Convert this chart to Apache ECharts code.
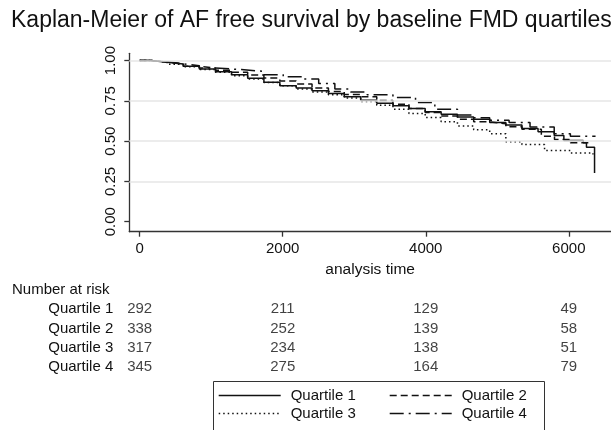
<!DOCTYPE html>
<html>
<head>
<meta charset="utf-8">
<script src="https://cdn.jsdelivr.net/npm/echarts@6/dist/echarts.min.js"></script>
<style>
html,body{margin:0;padding:0;background:#fff;}
#chart{width:611px;height:430px;}
</style>
</head>
<body>
<div id="chart"></div>
<script>
// ---- data ----
const titleText = 'Kaplan-Meier of AF free survival by baseline FMD quartiles';
const seriesNames = ['Quartile 1', 'Quartile 2', 'Quartile 3', 'Quartile 4'];

const q1Time = [0, 160, 383, 610, 834, 1060, 1285, 1510, 1737, 1960, 2188, 2410, 2639, 2860, 3090, 3315, 3541, 3765, 3992, 4215, 4443, 4670, 4894, 5120, 5345, 5570, 5796, 5931, 6202, 6247, 6360];
const q1Surv = [1.0, 0.99, 0.979, 0.965, 0.948, 0.931, 0.9125, 0.89, 0.865, 0.844, 0.829, 0.8125, 0.796, 0.775, 0.754, 0.735, 0.719, 0.702, 0.683, 0.667, 0.65, 0.635, 0.615, 0.60, 0.579, 0.558, 0.535, 0.504, 0.49, 0.4625, 0.302];

const q2Time = [0, 160, 383, 610, 834, 1060, 1285, 1510, 1737, 1960, 2188, 2410, 2639, 2860, 3090, 3315, 3541, 3765, 3992, 4215, 4443, 4670, 4894, 5120, 5345, 5616, 5800, 6022, 6300];
const q2Surv = [1.0, 0.99, 0.978, 0.965, 0.954, 0.94, 0.927, 0.91, 0.892, 0.873, 0.854, 0.83, 0.808, 0.79, 0.775, 0.752, 0.729, 0.703, 0.677, 0.656, 0.635, 0.62, 0.608, 0.59, 0.573, 0.531, 0.51, 0.49, 0.49];

const q3Time = [0, 160, 383, 610, 834, 1060, 1285, 1510, 1737, 1960, 2188, 2410, 2639, 2860, 3090, 3315, 3541, 3765, 3992, 4215, 4443, 4670, 4894, 5120, 5345, 5661, 6022, 6338];
const q3Surv = [1.0, 0.99, 0.977, 0.962, 0.945, 0.927, 0.906, 0.885, 0.864, 0.843, 0.823, 0.805, 0.7875, 0.767, 0.746, 0.722, 0.698, 0.672, 0.646, 0.62, 0.594, 0.57, 0.546, 0.496, 0.479, 0.442, 0.427, 0.417];

const q4Time = [0, 160, 383, 610, 834, 1060, 1421, 1737, 2007, 2278, 2503, 2729, 2950, 3180, 3541, 3857, 4127, 4443, 4670, 4894, 5165, 5458, 5796, 6022, 6374];
const q4Surv = [1.0, 0.992, 0.98, 0.968, 0.954, 0.944, 0.933, 0.9125, 0.90, 0.885, 0.858, 0.823, 0.805, 0.7875, 0.771, 0.74, 0.698, 0.6625, 0.645, 0.629, 0.615, 0.5875, 0.546, 0.531, 0.531];

const xTicks = [0, 2000, 4000, 6000];
const yTicks = [0, 0.25, 0.5, 0.75, 1];
const gridValues = [0.25, 0.5, 0.75, 1];

const riskTimes = [0, 2000, 4000, 6000];
const riskQ1 = [292, 211, 129, 49];
const riskQ2 = [338, 252, 139, 58];
const riskQ3 = [317, 234, 138, 51];
const riskQ4 = [345, 275, 164, 79];

// ---- chart ----
const FONT = '"Liberation Sans", Arial, Helvetica, sans-serif';
const INK = '#111';
const zip = (a, b) => a.map((v, i) => [v, b[i]]);
const survData = [zip(q1Time, q1Surv), zip(q2Time, q2Surv), zip(q3Time, q3Surv), zip(q4Time, q4Surv)];
const dashes = ['solid', [7, 4], [1.5, 3], [14, 5, 2, 5]];
const riskData = [riskQ1, riskQ2, riskQ3, riskQ4];

const chart = echarts.init(document.getElementById('chart'), null, {renderer: 'canvas'});

const series = [];
series.push({
  type: 'line', name: '_grid', data: [], xAxisIndex: 0, yAxisIndex: 0, silent: true,
  markLine: {
    silent: true, symbol: ['none', 'none'], label: {show: false},
    lineStyle: {color: '#e6e6e6', width: 1.5, type: 'solid'},
    emphasis: {disabled: true},
    data: gridValues.map(v => ({yAxis: v}))
  }
});
seriesNames.forEach((n, i) => {
  series.push({
    type: 'line', name: n, step: 'end', symbol: 'none', showSymbol: false, data: survData[i],
    xAxisIndex: 0, yAxisIndex: 0, z: 3,
    lineStyle: {color: INK, width: 1.5, type: dashes[i]},
    itemStyle: {color: INK}
  });
});
seriesNames.forEach((n, i) => {
  series.push({
    type: 'scatter', name: '_risk' + i, xAxisIndex: 1, yAxisIndex: 1,
    symbolSize: 1, itemStyle: {color: 'rgba(0,0,0,0)'}, silent: true,
    data: riskTimes.map((t, j) => [t, n, riskData[i][j]]),
    label: {
      show: true, position: 'inside', formatter: p => String(p.data[2]),
      color: INK, fontSize: 15, fontFamily: FONT
    }
  });
});

const legendPos = [[218, 388], [389, 388], [218, 406], [389, 406]];
const legends = seriesNames.map((n, i) => ({
  show: true, data: [n], left: legendPos[i][0], top: legendPos[i][1], padding: 0,
  itemWidth: 62, itemHeight: 14, itemGap: 0, selectedMode: false,
  textStyle: {color: INK, fontSize: 15, fontFamily: FONT, padding: [0, 0, 0, 5]},
  itemStyle: {color: 'rgba(0,0,0,0)', borderColor: 'rgba(0,0,0,0)', borderWidth: 0, opacity: 0},
  lineStyle: {type: dashes[i], width: 1.4, color: INK}
}));

chart.setOption({
  backgroundColor: '#fff',
  animation: false,
  title: [
    {text: titleText, left: 11, top: 9, padding: 0,
     textStyle: {fontSize: 23, fontWeight: 'normal', color: INK, fontFamily: FONT}},
    {text: 'Number at risk', left: 12, top: 282, padding: 0,
     textStyle: {fontSize: 15, fontWeight: 'normal', color: INK, fontFamily: FONT}}
  ],
  legend: legends,
  grid: [
    {left: 129.3, right: -16, top: 53.3, bottom: 198.3, containLabel: false},
    {left: 129.3, right: -16, top: 299.5, height: 77, containLabel: false}
  ],
  xAxis: [
    {type: 'value', gridIndex: 0, min: -145, max: 6590,
     name: 'analysis time', nameLocation: 'middle', nameGap: 30,
     nameTextStyle: {fontSize: 15.5, color: INK, fontFamily: FONT},
     axisLine: {show: true, onZero: false, lineStyle: {color: '#333', width: 1.3}},
     axisTick: {show: true, length: 5, customValues: xTicks, lineStyle: {color: '#333', width: 1.3}},
     axisLabel: {show: true, customValues: xTicks, margin: 10, fontSize: 15, color: INK, fontFamily: FONT,
                 formatter: v => String(v)},
     splitLine: {show: false}},
    {type: 'value', gridIndex: 1, min: -145, max: 6590, show: false}
  ],
  yAxis: [
    {type: 'value', gridIndex: 0, min: -0.062, max: 1.045,
     axisLine: {show: true, onZero: false, lineStyle: {color: '#333', width: 1.3}},
     axisTick: {show: true, length: 5, customValues: yTicks, lineStyle: {color: '#333', width: 1.3}},
     axisLabel: {show: true, customValues: yTicks, rotate: 90, margin: 11, fontSize: 15, color: INK, fontFamily: FONT,
                 formatter: v => v.toFixed(2)},
     splitLine: {show: false}},
    {type: 'category', gridIndex: 1, inverse: true, data: seriesNames,
     axisLine: {show: false}, axisTick: {show: false},
     axisLabel: {interval: 0, margin: 16, fontSize: 15, color: INK, fontFamily: FONT},
     splitLine: {show: false}}
  ],
  graphic: [
    {type: 'rect', left: 211, top: 379, silent: true,
     shape: {width: 331, height: 70},
     style: {fill: 'none', stroke: '#333', lineWidth: 1}}
  ],
  series: series
});
</script>
</body>
</html>
